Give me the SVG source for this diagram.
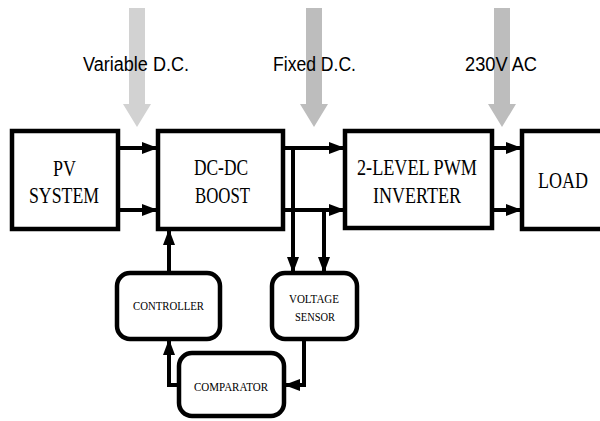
<svg xmlns="http://www.w3.org/2000/svg" width="600" height="421" viewBox="0 0 600 421">
  <style>
    .box { fill: #fff; stroke: #000; stroke-width: 4.5; }
    .wire { fill: none; stroke: #000; stroke-width: 4; }
    .lbl { font-family: "Liberation Sans", Arial, sans-serif; font-size: 19.5px; fill: #000; }
    .big { font-family: "Liberation Serif", "Times New Roman", serif; font-size: 24px; fill: #000; text-anchor: middle; }
    .small { font-family: "Liberation Serif", "Times New Roman", serif; font-size: 13.5px; fill: #000; text-anchor: middle; }
  </style>
  <defs>
    <marker id="head" viewBox="0 0 16 12" refX="16" refY="6" markerWidth="16" markerHeight="12" markerUnits="userSpaceOnUse" orient="auto">
      <path d="M0,0 L16,6 L0,12 Z" fill="#000"/>
    </marker>
  </defs>
  <rect width="600" height="421" fill="#fff"/>

  <!-- power level indicators -->
  <g id="levels">
    <polygon points="129,8 145,8 145,104 151,104 137,127 123,104 129,104" fill="#d2d2d2"/>
    <polygon points="306,8 322,8 322,104 328,104 314,127 300,104 306,104" fill="#bdbdbd"/>
    <polygon points="494,8 510,8 510,104 516,104 502,127 488,104 494,104" fill="#bdbdbd"/>
    <text class="lbl" x="83" y="71" textLength="106" lengthAdjust="spacingAndGlyphs">Variable D.C.</text>
    <text class="lbl" x="273" y="71" textLength="83" lengthAdjust="spacingAndGlyphs">Fixed D.C.</text>
    <text class="lbl" x="465" y="71" textLength="72" lengthAdjust="spacingAndGlyphs">230V AC</text>
  </g>

  <!-- connectors -->
  <g id="connectors">
    <line class="wire" x1="118" y1="148" x2="158" y2="148" marker-end="url(#head)"/>
    <line class="wire" x1="118" y1="210" x2="158" y2="210" marker-end="url(#head)"/>
    <line class="wire" x1="283" y1="148" x2="345" y2="148" marker-end="url(#head)"/>
    <line class="wire" x1="283" y1="210" x2="345" y2="210" marker-end="url(#head)"/>
    <line class="wire" x1="492" y1="148" x2="522" y2="148" marker-end="url(#head)"/>
    <line class="wire" x1="492" y1="210" x2="522" y2="210" marker-end="url(#head)"/>
    <line class="wire" x1="293" y1="146" x2="293" y2="273" marker-end="url(#head)"/>
    <line class="wire" x1="324" y1="208" x2="324" y2="273" marker-end="url(#head)"/>
    <line class="wire" x1="169" y1="273" x2="169" y2="229" marker-end="url(#head)"/>
    <path class="wire" d="M179,385 H169 V339" marker-end="url(#head)"/>
    <path class="wire" d="M304,339 V385 H284" marker-end="url(#head)"/>
  </g>

  <g id="pv">
    <rect class="box" x="12" y="131" width="106" height="98"/>
    <text class="big" x="64.5" y="176" textLength="23" lengthAdjust="spacingAndGlyphs">PV</text>
    <text class="big" x="64" y="203" textLength="70" lengthAdjust="spacingAndGlyphs">SYSTEM</text>
  </g>

  <g id="boost">
    <rect class="box" x="158" y="131" width="125" height="98"/>
    <text class="big" x="221" y="175" textLength="54" lengthAdjust="spacingAndGlyphs">DC-DC</text>
    <text class="big" x="222.5" y="203" textLength="55" lengthAdjust="spacingAndGlyphs">BOOST</text>
  </g>

  <g id="inverter">
    <rect class="box" x="345" y="131" width="147" height="97"/>
    <text class="big" x="417" y="175" textLength="120" lengthAdjust="spacingAndGlyphs">2-LEVEL PWM</text>
    <text class="big" x="417" y="203" textLength="88" lengthAdjust="spacingAndGlyphs">INVERTER</text>
  </g>

  <g id="load">
    <rect class="box" x="522" y="131" width="90" height="98"/>
    <text class="big" x="563" y="188" textLength="50" lengthAdjust="spacingAndGlyphs">LOAD</text>
  </g>

  <g id="controller">
    <rect class="box" x="117" y="273" width="103" height="66" rx="13"/>
    <text class="small" x="168.5" y="310" textLength="71" lengthAdjust="spacingAndGlyphs">CONTROLLER</text>
  </g>

  <g id="sensor">
    <rect class="box" x="272" y="273" width="85" height="66" rx="13"/>
    <text class="small" x="314" y="303" textLength="50" lengthAdjust="spacingAndGlyphs">VOLTAGE</text>
    <text class="small" x="315" y="321" textLength="40" lengthAdjust="spacingAndGlyphs">SENSOR</text>
  </g>

  <g id="comparator">
    <rect class="box" x="179" y="353" width="105" height="63" rx="13"/>
    <text class="small" x="231" y="391" textLength="74" lengthAdjust="spacingAndGlyphs">COMPARATOR</text>
  </g>
</svg>
